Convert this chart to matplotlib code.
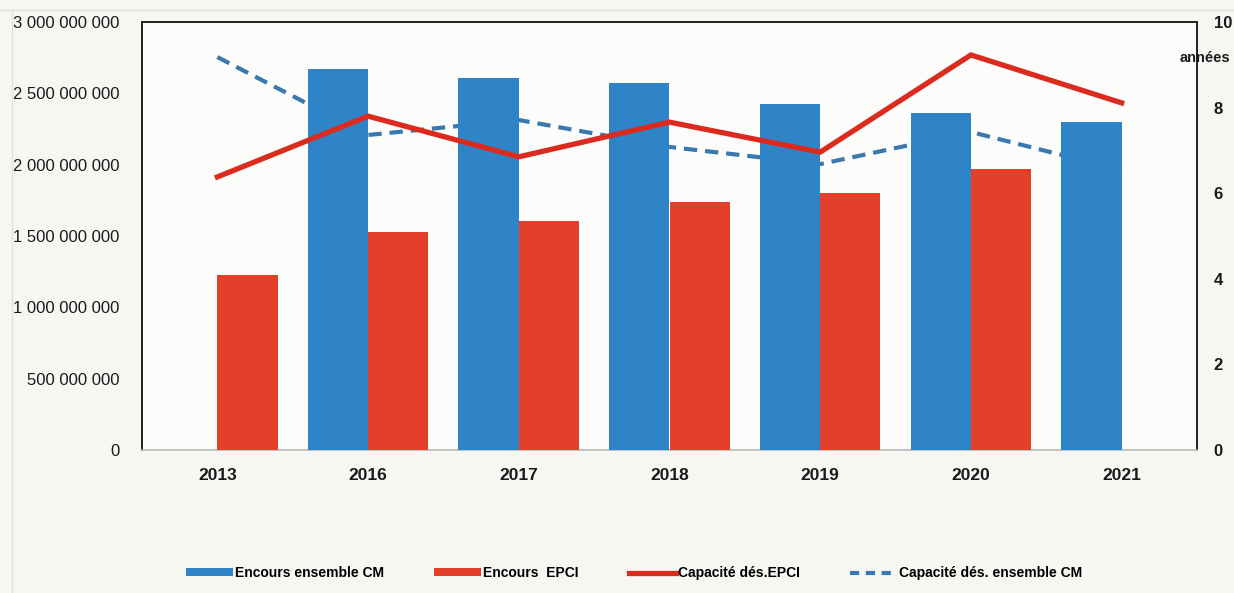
import numpy as np
import matplotlib
matplotlib.use("Agg")
import matplotlib.pyplot as plt
from matplotlib.lines import Line2D
from matplotlib.patches import Patch

# --- data -------------------------------------------------------------
years = ["2013", "2016", "2017", "2018", "2019", "2020", "2021"]
encours_cm = [np.nan, 2.671e9, 2.607e9, 2.572e9, 2.425e9, 2.364e9, 2.301e9]
encours_epci = [1.227e9, 1.530e9, 1.605e9, 1.740e9, 1.799e9, 1.969e9, np.nan]
capacite_epci = [6.38, 7.80, 6.85, 7.66, 6.96, 9.23, 8.11]
capacite_cm = [9.18, 7.36, 7.71, 7.08, 6.68, 7.43, 6.54]

left_ticks = [0, 5e8, 1e9, 1.5e9, 2e9, 2.5e9, 3e9]
left_labels = ["0", "500 000 000", "1 000 000 000", "1 500 000 000",
               "2 000 000 000", "2 500 000 000", "3 000 000 000"]
right_ticks = [0, 2, 4, 6, 8, 10]

# --- style ------------------------------------------------------------
C_BLUE_BAR = "#2f84c8"
C_RED_BAR = "#e2402a"
C_RED_LINE = "#db2a1e"
C_BLUE_LINE = "#3a78ad"
FONT = ["Liberation Sans", "DejaVu Sans"]
INK = "#1a1a1a"

fig = plt.figure(figsize=(12.34, 5.93), dpi=100, facecolor="#f6f6f3")
rect = [142 / 1234, 1 - 450 / 593, (1197 - 142) / 1234, (450 - 22) / 593]

# bottom layer: dashed line and right-hand scale
ax_r = fig.add_axes(rect)
# middle layer: bars and left-hand scale
ax = fig.add_axes(rect, sharex=ax_r)
# top layer: solid line
ax_top = fig.add_axes(rect, sharex=ax_r)

x = np.arange(len(years))
w = 0.4

ax_r.set_facecolor("#fcfcfa")
ax_r.plot(x, capacite_cm, color=C_BLUE_LINE, lw=3.0, ls=(0, (3.2, 1.9)),
          dash_capstyle="butt")
ax_r.set_ylim(0, 10)
ax_r.yaxis.tick_right()
ax_r.set_yticks(right_ticks)
ax_r.set_yticklabels([str(t) for t in right_ticks], family=FONT,
                     fontweight="bold", fontsize=12, color=INK)
ax_r.tick_params(axis="y", length=0, pad=12)
ax_r.tick_params(axis="x", length=0, labelbottom=False)

ax.patch.set_visible(False)
ax.bar(x - w / 2, encours_cm, width=w, color=C_BLUE_BAR, zorder=2)
ax.bar(x + w / 2, encours_epci, width=w, color=C_RED_BAR, zorder=2)
ax.set_ylim(0, 3e9)
ax.set_yticks(left_ticks)
ax.set_yticklabels(left_labels, family=FONT, fontsize=12, color=INK)
ax.set_xlim(-0.5, len(years) - 0.5)
ax.set_xticks(x)
ax.set_xticklabels(years, family=FONT, fontweight="bold", fontsize=12.5,
                   color=INK)
ax.tick_params(axis="y", length=0, pad=16)
ax.tick_params(axis="x", length=0, pad=13)

ax_top.patch.set_visible(False)
ax_top.plot(x, capacite_epci, color=C_RED_LINE, lw=3.8,
            solid_joinstyle="miter")
ax_top.set_ylim(0, 10)
ax_top.set_yticks([])
ax_top.tick_params(axis="x", length=0, labelbottom=False)

for a in (ax, ax_top):
    for s in a.spines.values():
        s.set_visible(False)
for side in ("top", "left", "right"):
    ax_r.spines[side].set_color("#202020")
    ax_r.spines[side].set_linewidth(1.4)
ax_r.spines["bottom"].set_color("#b8b8b8")
ax_r.spines["bottom"].set_linewidth(1.2)

# unit label of the right-hand scale
fig.text(1205 / 1234, 1 - 58 / 593, "années", family=FONT,
         fontweight="bold", fontsize=10.5, ha="center", va="center",
         color=INK)

# faint outer frame
fig.add_artist(Line2D([0, 1], [1 - 10 / 593] * 2, color="#dcdcdc", lw=1.0,
                      transform=fig.transFigure))
fig.add_artist(Line2D([12 / 1234] * 2, [0, 1 - 10 / 593], color="#e2e2e2",
                      lw=1.0, transform=fig.transFigure))

handles = [
    Patch(facecolor=C_BLUE_BAR, edgecolor="none"),
    Patch(facecolor=C_RED_BAR, edgecolor="none"),
    Line2D([], [], color=C_RED_LINE, lw=3.8),
    Line2D([], [], color=C_BLUE_LINE, lw=3.0, ls=(0, (2.2, 1.6))),
]
labels = ["Encours ensemble CM", "Encours  EPCI", "Capacité dés.EPCI",
          "Capacité dés. ensemble CM"]
fig.legend(handles, labels, loc="center",
           bbox_to_anchor=(634 / 1234, 1 - 573 / 593),
           ncol=4, frameon=False, handlelength=3.4, handleheight=0.5,
           handletextpad=0.15, columnspacing=3.6,
           prop={"family": FONT, "weight": "bold", "size": 10})

fig.savefig("out.png", dpi=100, facecolor=fig.get_facecolor())
